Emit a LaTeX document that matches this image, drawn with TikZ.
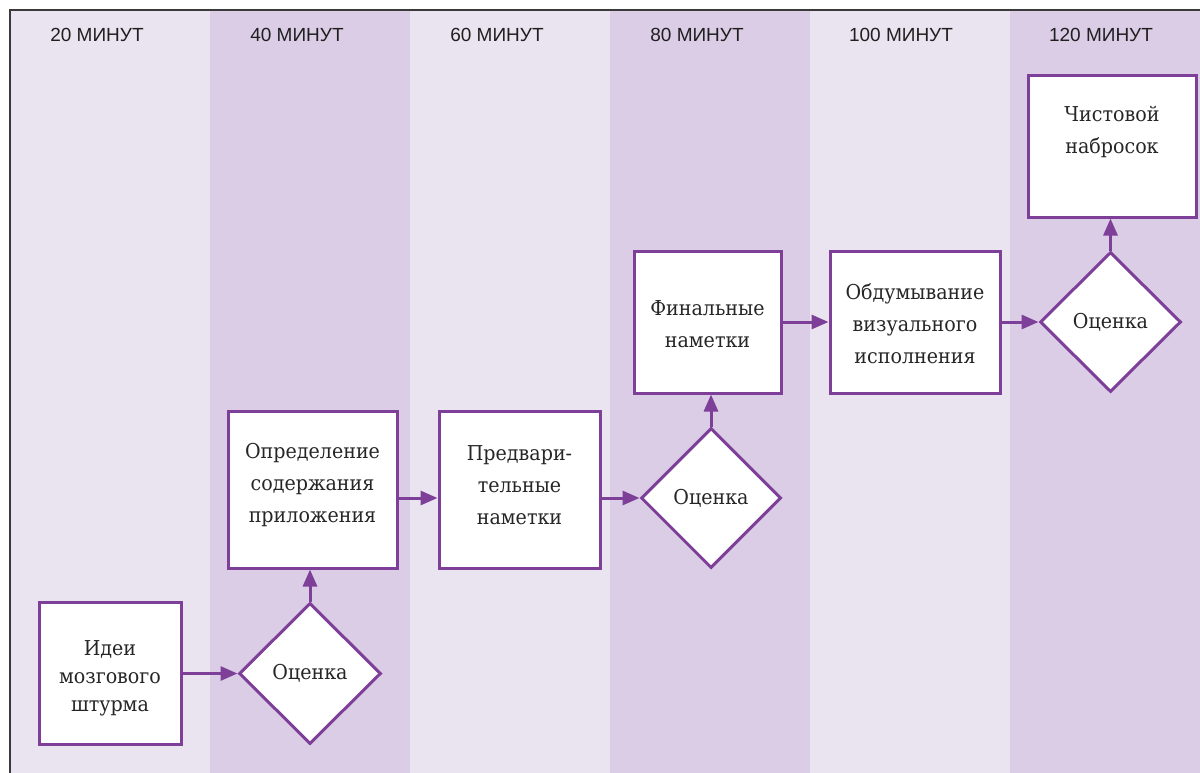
\documentclass[tikz,border=0pt]{standalone}
\usepackage{fontspec}
\setmainfont[FakeStretch=0.93]{DejaVu Serif}
\newfontfamily\hdrfont{Liberation Sans}
\usetikzlibrary{shapes.geometric,arrows.meta}
\definecolor{bandlight}{HTML}{EAE3F0}
\definecolor{banddark}{HTML}{DCCDE6}
\definecolor{purp}{HTML}{7D3F98}
\definecolor{framec}{HTML}{3A3A3A}
\tikzset{
  box/.style={draw=purp, line width=3pt, fill=white, inner sep=0pt},
  dia/.style={diamond, draw=purp, line width=3pt, fill=white, inner sep=0pt, aspect=1,
    font=\fontsize{20.5}{32}\selectfont, text=black!85},
  txt/.style={align=center, inner sep=0pt, font=\fontsize{20.5}{32}\selectfont, text=black!85},
  hdr/.style={inner sep=0pt, font=\hdrfont\fontsize{19}{22}\selectfont, text=black!88},
  flow/.style={draw=purp, line width=3pt, -{Triangle[length=17pt,width=14pt]}, fill=purp},
}
\begin{document}
\begin{tikzpicture}[x=1pt,y=-1pt]
\useasboundingbox (0,0) rectangle (1200,773);
\fill[white] (0,0) rectangle (1200,773);
% bands
\fill[bandlight] (10,10) rectangle (210,773);
\fill[banddark] (210,10) rectangle (410,773);
\fill[bandlight] (410,10) rectangle (610,773);
\fill[banddark] (610,10) rectangle (810,773);
\fill[bandlight] (810,10) rectangle (1010,773);
\fill[banddark] (1010,10) rectangle (1200,773);
\draw[framec, line width=1.5pt] (10,773) -- (10,10) -- (1200,10);
% headers
\node[hdr] (h1) at (97,35) {20 МИНУТ};
\node[hdr] (h2) at (297,35) {40 МИНУТ};
\node[hdr] (h3) at (497,35) {60 МИНУТ};
\node[hdr] (h4) at (697,35) {80 МИНУТ};
\node[hdr] (h5) at (901,35) {100 МИНУТ};
\node[hdr] (h6) at (1101,35) {120 МИНУТ};
% boxes
\node[box, minimum width=142pt, minimum height=142pt] (b1) at (110,673) {};
\node[txt, font=\fontsize{20.5}{28}\selectfont] (t1) at (110,678) {Идеи\\мозгового\\штурма};
\node[dia, minimum width=142pt, minimum height=141pt] (d1) at (310,673.5) {Оценка};
\node[box, minimum width=169pt, minimum height=157pt] (b2) at (312.5,489.5) {};
\node[txt] (t2) at (312.5,485) {Определение\\содержания\\приложения};
\node[box, minimum width=161pt, minimum height=157pt] (b3) at (519.5,489.5) {};
\node[txt] (t3) at (519.5,485) {Предвари-\\тельные\\наметки};
\node[dia, minimum width=140pt, minimum height=140pt] (d2) at (711,498) {Оценка};
\node[box, minimum width=147pt, minimum height=142pt] (b4) at (707.5,322) {};
\node[txt] (t4) at (707.5,324) {Финальные\\наметки};
\node[box, minimum width=170pt, minimum height=142pt] (b5) at (915,322) {};
\node[txt] (t5) at (915,324) {Обдумывание\\визуального\\исполнения};
\node[dia, minimum width=141pt, minimum height=140pt] (d3) at (1110.5,322) {Оценка};
\node[box, minimum width=168pt, minimum height=141pt] (b6) at (1112,146.5) {};
\node[txt] (t6) at (1112,132) {Чистовой\\набросок};
% connectors
\draw[flow] (b1.east |- d1.west) -- (d1.west);
\draw[flow] (d1.north) -- (d1.north |- b2.south);
\draw[flow] (b2.east |- d2.west) -- (b3.west |- d2.west);
\draw[flow] (b3.east |- d2.west) -- (d2.west);
\draw[flow] (d2.north) -- (d2.north |- b4.south);
\draw[flow] (b4.east) -- (b5.west);
\draw[flow] (b5.east) -- (d3.west);
\draw[flow] (d3.north) -- (d3.north |- b6.south);
\end{tikzpicture}
\end{document}
